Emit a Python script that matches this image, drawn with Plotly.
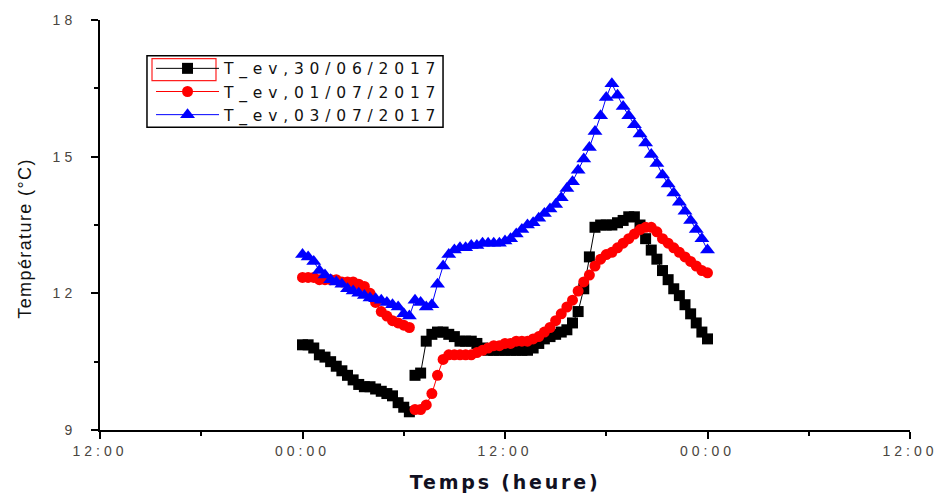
import plotly.graph_objects as go

# Time of day in hours (20-min sampling), 0 = 00:00, 24 = next 00:00
hours = [round(i / 3, 3) for i in range(73)]

T_30_06 = [10.87, 10.87, 10.8, 10.65, 10.6, 10.5, 10.4, 10.3, 10.2, 10.1,
           10.0, 9.95, 9.95, 9.9, 9.85, 9.8, 9.75, 9.6, 9.5, 9.4,
           10.2, 10.25, 10.95, 11.1, 11.15, 11.15, 11.1, 11.05, 10.95, 10.95,
           10.95, 10.9, 10.8, 10.75, 10.75, 10.75, 10.75, 10.75, 10.75, 10.75,
           10.75, 10.8, 10.9, 11.0, 11.05, 11.1, 11.15, 11.2, 11.35, 11.6,
           12.1, 12.8, 13.45, 13.5, 13.5, 13.5, 13.55, 13.6, 13.68, 13.68,
           13.5, 13.2, 12.95, 12.75, 12.5, 12.3, 12.1, 11.95, 11.75, 11.55,
           11.35, 11.15, 11.0]

T_01_07 = [12.35, 12.35, 12.35, 12.3, 12.3, 12.3, 12.3, 12.25, 12.25, 12.25,
           12.2, 12.15, 12.0, 11.8, 11.6, 11.5, 11.4, 11.35, 11.3, 11.25,
           9.45, 9.45, 9.55, 9.8, 10.2, 10.55, 10.65, 10.65, 10.65, 10.65,
           10.65, 10.7, 10.75, 10.8, 10.85, 10.85, 10.9, 10.9, 10.95, 10.95,
           10.95, 11.0, 11.05, 11.15, 11.25, 11.4, 11.55, 11.7, 11.85, 12.05,
           12.25, 12.4, 12.6, 12.75, 12.85, 12.9, 13.0, 13.1, 13.2, 13.3,
           13.4, 13.45, 13.45, 13.35, 13.2, 13.1, 13.0, 12.9, 12.8, 12.7,
           12.6, 12.5, 12.45]

T_03_07 = [12.85, 12.8, 12.7, 12.5, 12.4, 12.3, 12.25, 12.2, 12.1, 12.05,
           12.0, 11.95, 11.9, 11.88, 11.85, 11.8, 11.75, 11.7, 11.55, 11.5,
           11.85, 11.8, 11.7, 11.75, 12.2, 12.6, 12.85, 12.95, 13.0, 13.0,
           13.05, 13.05, 13.1, 13.1, 13.1, 13.1, 13.15, 13.2, 13.3, 13.4,
           13.5, 13.55, 13.65, 13.75, 13.85, 13.95, 14.1, 14.3, 14.45, 14.7,
           14.95, 15.2, 15.55, 15.9, 16.3, 16.6, 16.35, 16.1, 15.9, 15.7,
           15.5, 15.3, 15.05, 14.85, 14.6, 14.4, 14.2, 14.0, 13.8, 13.6,
           13.4, 13.2, 12.95]

# index after which the record is interrupted (no connecting segment)
gap_30_06 = 19
gap_01_07 = 19

names = ["T_ev,30/06/2017", "T_ev,01/07/2017", "T_ev,03/07/2017"]
colors = ["#000000", "#ff0000", "#0000ff"]
symbols = ["square", "circle", "triangle-up"]
msizes = [11, 11, 13]

x_ticks = [-12, 0, 12, 24, 36]
x_ticktext = ["12:00", "00:00", "12:00", "00:00", "12:00"]
x_minor = [-6, 6, 18, 30]
y_ticks = [9, 12, 15, 18]
y_minor = [10.5, 13.5, 16.5]


def with_gap(xs, ys, gap):
    if gap is None:
        return list(xs), list(ys)
    gx = list(xs[:gap + 1]) + [(xs[gap] + xs[gap + 1]) / 2] + list(xs[gap + 1:])
    gy = list(ys[:gap + 1]) + [None] + list(ys[gap + 1:])
    return gx, gy


series = [T_30_06, T_01_07, T_03_07]
gaps = [gap_30_06, gap_01_07, None]

fig = go.Figure()
for vals, gap, name, c, s, ms in zip(series, gaps, names, colors, symbols, msizes):
    xx, yy = with_gap(hours, vals, gap)
    fig.add_trace(go.Scatter(
        x=xx, y=yy, name=name, mode="lines+markers",
        line=dict(color=c, width=1),
        marker=dict(color=c, symbol=s, size=ms, line=dict(width=0)),
        connectgaps=False,
    ))

tick_font = dict(family="Liberation Sans, Arial", size=14, color="#4a4540")

fig.update_layout(
    width=941, height=493,
    margin=dict(l=100, r=31, t=17, b=63),
    paper_bgcolor="white", plot_bgcolor="white",
    showlegend=True,
    legend=dict(
        x=0.063, y=0.9225, xanchor="left", yanchor="top",
        bgcolor="rgba(0,0,0,0)", borderwidth=0,
        font=dict(family="DejaVu Sans, Arial", size=15.5, color="#111111"),
        itemwidth=63, tracegroupgap=0,
    ),
    shapes=[
        dict(type="rect", xref="paper", yref="paper", x0=0.058, x1=0.4235,
             y0=0.7385, y1=0.9128, line=dict(color="black", width=1.5),
             fillcolor="rgba(0,0,0,0)", layer="above"),
        dict(type="rect", xref="paper", yref="paper", x0=0.0642, x1=0.1432,
             y0=0.8523, y1=0.9056, line=dict(color="#ff2020", width=1.2),
             fillcolor="rgba(0,0,0,0)", layer="above"),
    ],
    xaxis=dict(
        range=[-12, 36], tickmode="array", tickvals=x_ticks, ticktext=x_ticktext,
        showgrid=False, zeroline=False, showline=True, linecolor="black", linewidth=2,
        ticks="outside", ticklen=7, tickwidth=2, tickcolor="black",
        tickfont=tick_font,
        minor=dict(tickvals=x_minor, ticks="outside", ticklen=4, tickwidth=2, tickcolor="black"),
    ),
    yaxis=dict(
        range=[9, 18], tickmode="array", tickvals=y_ticks,
        showgrid=False, zeroline=False, showline=True, linecolor="black", linewidth=2,
        ticks="outside", ticklen=7, tickwidth=2, tickcolor="black",
        tickfont=tick_font, ticklabelstandoff=12,
        minor=dict(tickvals=y_minor, ticks="outside", ticklen=4, tickwidth=2, tickcolor="black"),
    ),
    annotations=[
        dict(text="Temps (heure)", xref="paper", yref="paper", x=0.5, y=-0.128,
             xanchor="center", yanchor="middle", showarrow=False,
             font=dict(family="DejaVu Sans, Arial", size=19, color="#111122", weight="bold")),
        dict(text="Température (°C)", xref="paper", yref="paper", x=-0.0926, y=0.467,
             xanchor="center", yanchor="middle", showarrow=False, textangle=-90,
             font=dict(family="Liberation Sans, Arial", size=18, color="#111111")),
    ],
)

# the reference typesetting is horizontally stretched: widen the letter spacing
post_js = """
var st = document.createElement('style');
st.textContent = '.legendtext{letter-spacing:5.8px}' +
  ' g.legend g.scrollbox{clip-path:none !important}' +
  ' g.xtick text{letter-spacing:4px}' +
  ' g.ytick text{letter-spacing:4px}' +
  ' g.annotation[data-index="0"] text{letter-spacing:2.8px}' +
  ' g.annotation[data-index="1"] text{letter-spacing:1.4px}';
document.head.appendChild(st);
"""

fig.write_html("out.html", post_script=post_js)
